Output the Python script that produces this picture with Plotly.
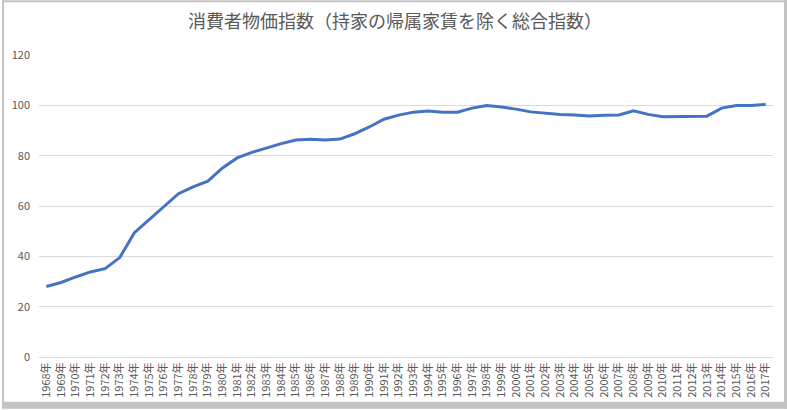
import plotly.graph_objects as go

years = [f"{y}年" for y in range(1968, 2018)]
values = [28.0, 29.6, 31.8, 33.8, 35.1, 39.5, 49.4, 54.7, 59.9, 64.9,
          67.6, 69.9, 75.1, 79.1, 81.3, 83.1, 84.8, 86.2, 86.5, 86.2,
          86.6, 88.7, 91.4, 94.5, 96.1, 97.3, 97.7, 97.3, 97.3, 98.9,
          99.9, 99.3, 98.5, 97.4, 96.8, 96.4, 96.2, 95.8, 96.1, 96.2,
          97.8, 96.4, 95.5, 95.5, 95.5, 95.7, 98.9, 99.9, 99.9, 100.4]
title_text = "消費者物価指数（持家の帰属家賃を除く総合指数）"

W, H = 787, 410
L, R, T, B = 37, 14, 55, 52
pw, ph = W - L - R, H - T - B

def px(x):
    return (x - L) / pw

def py(y):
    return (H - B - y) / ph

font = "Noto Sans CJK JP, Noto Sans, sans-serif"

fig = go.Figure()
fig.add_trace(go.Scatter(x=years, y=values, mode="lines",
                         line=dict(color="#4472C4", width=3), hoverinfo="x+y"))

border = "#c3c3c3"
shapes = []
for x0, y0, x1, y1 in [(0, 0, 2, H), (0, 0, W, 2), (W - 3, 0, W, H), (0, H - 7, W, H)]:
    shapes.append(dict(type="rect", xref="paper", yref="paper",
                       x0=px(x0), x1=px(x1), y0=py(y1), y1=py(y0),
                       fillcolor=border, line=dict(width=0), layer="above"))

fig.update_layout(
    width=W, height=H,
    margin=dict(l=L, r=R, t=T, b=B),
    paper_bgcolor="white", plot_bgcolor="white",
    showlegend=False,
    font=dict(family=font, color="#595959"),
    title=dict(text=title_text, x=0.502, xanchor="center", y=1 - 22 / H, yanchor="middle",
               font=dict(size=18, color="#595959", family=font)),
    xaxis=dict(type="category", tickangle=-90, tickfont=dict(size=11, color="#595959"),
               showgrid=False, showline=True, linecolor="#d9d9d9", linewidth=1,
               ticks="", range=[-0.5, len(years) - 0.5], fixedrange=True),
    yaxis=dict(range=[0, 120], dtick=20, tickfont=dict(size=11, color="#595959"),
               showgrid=True, gridcolor="#d9d9d9", gridwidth=1, zeroline=False,
               showline=False, ticks="", ticklabelstandoff=8),
    shapes=shapes,
)

fig.write_html("out.html")
